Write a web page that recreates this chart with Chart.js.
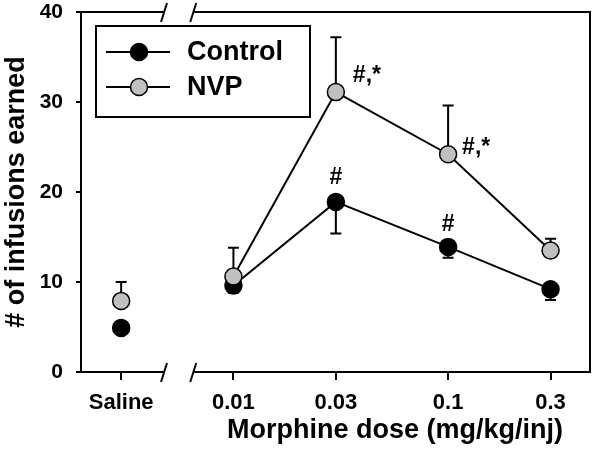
<!DOCTYPE html>
<html>
<head>
<meta charset="utf-8">
<script src="https://cdn.jsdelivr.net/npm/chart.js@4/dist/chart.umd.min.js"></script>
<style>
  html, body { margin: 0; padding: 0; background: #fff; }
  #wrap { width: 600px; height: 451px; }
</style>
</head>
<body>
<div id="wrap"><canvas id="chart"></canvas></div>
<script>
// Data (x on log dose axis, saline gets a nominal spot left of the break)
const doseLabels = ['Saline', '0.01', '0.03', '0.1', '0.3'];
const doseX = [0.003, 0.01, 0.03, 0.1, 0.3];
const controlMean = [4.9, 9.6, 18.9, 13.9, 9.2];
const controlErr = [0.4, 0.8, 3.5, 1.2, 1.2];
const nvpMean = [7.9, 10.6, 31.1, 24.2, 13.5];
const nvpErr = [2.1, 3.2, 6.1, 5.4, 1.3];
const yTicks = [0, 10, 20, 30, 40];
const nvpMarks = ['', '', '#,*', '#,*', ''];
const controlMarks = ['', '', '#', '#', ''];

const FONT = "'Liberation Sans', Arial, sans-serif";
const xMin = 0.00195, xMax = 0.458;
const breakFrom = 0.00475, breakTo = 0.0065;

const toPoints = (ys) => doseX.map((x, i) => ({ x: x, y: ys[i] }));

// ================= PLUGIN: frame, error bars, marks, legend =================
const figurePlugin = {
    id: 'figure',
    beforeDatasetsDraw(chart) {
        const ctx = chart.ctx;
        const xs = chart.scales.x, ys = chart.scales.y;
        ctx.save();
        ctx.strokeStyle = '#000';
        ctx.lineWidth = 2;
        const cap = 5.5;
        // NVP bars go up, control bars go down
        [[nvpMean, nvpErr, 1], [controlMean, controlErr, -1]].forEach(([m, e, dir]) => {
            m.forEach((v, i) => {
                const px = xs.getPixelForValue(doseX[i]);
                const y0 = ys.getPixelForValue(v);
                const y1 = ys.getPixelForValue(v + dir * e[i]);
                ctx.beginPath();
                ctx.moveTo(px, y0); ctx.lineTo(px, y1);
                ctx.moveTo(px - cap, y1); ctx.lineTo(px + cap, y1);
                ctx.stroke();
            });
        });
        ctx.restore();
    },
    afterDraw(chart) {
        const ctx = chart.ctx;
        const a = chart.chartArea;
        const xs = chart.scales.x, ys = chart.scales.y;
        ctx.save();
        ctx.strokeStyle = '#000';
        ctx.lineWidth = 2;

        // frame with axis break on top and bottom
        const b0 = xs.getPixelForValue(breakFrom);
        const b1 = xs.getPixelForValue(breakTo);
        ctx.beginPath();
        ctx.moveTo(a.left, a.top); ctx.lineTo(a.left, a.bottom);
        ctx.moveTo(a.right, a.top); ctx.lineTo(a.right, a.bottom);
        [a.top, a.bottom].forEach(y => {
            ctx.moveTo(a.left - 1, y); ctx.lineTo(b0, y);
            ctx.moveTo(b1, y); ctx.lineTo(a.right + 1, y);
            [b0, b1].forEach(bx => {
                ctx.moveTo(bx - 3, y + 10); ctx.lineTo(bx + 3, y - 9);
            });
        });
        ctx.stroke();

        // significance marks
        ctx.fillStyle = '#000';
        ctx.font = 'bold 23px ' + FONT;
        ctx.textBaseline = 'middle';
        nvpMarks.forEach((t, i) => {
            if (!t) return;
            const px = xs.getPixelForValue(doseX[i]);
            const py = ys.getPixelForValue(nvpMean[i]);
            ctx.textAlign = 'left';
            ctx.fillText(t, px + (i === 2 ? 17 : 14), py + (i === 2 ? -16 : -7));
        });
        controlMarks.forEach((t, i) => {
            if (!t) return;
            const px = xs.getPixelForValue(doseX[i]);
            const py = ys.getPixelForValue(controlMean[i]);
            ctx.textAlign = 'center';
            ctx.fillText(t, px, py + (i === 2 ? -24 : -22));
        });

        // x title (sits right of centre in the original)
        ctx.font = 'bold 27px ' + FONT;
        ctx.textAlign = 'center';
        ctx.fillText('Morphine dose (mg/kg/inj)', 395, 431);

        // legend
        ctx.strokeRect(96, 26, 214, 91);
        const rows = [['Control', '#000', 52], ['NVP', '#c0c0c0', 87]];
        rows.forEach(([name, fill, y]) => {
            ctx.beginPath();
            ctx.moveTo(106, y); ctx.lineTo(170, y);
            ctx.stroke();
            ctx.beginPath();
            ctx.arc(139, y, 8.5, 0, Math.PI * 2);
            ctx.fillStyle = fill;
            ctx.fill();
            ctx.lineWidth = 1.5;
            ctx.stroke();
            ctx.lineWidth = 2;
            ctx.fillStyle = '#000';
            ctx.font = 'bold 27px ' + FONT;
            ctx.textAlign = 'left';
            ctx.fillText(name, 187, y + 1);
        });
        ctx.restore();
    }
};

const noGapAfterSaline = (ctx) => ctx.p0DataIndex === 0 ? 'transparent' : '#000';

new Chart(document.getElementById('chart'), {
    type: 'line',
    data: {
        datasets: [
            {
                label: 'NVP',
                data: toPoints(nvpMean),
                borderColor: '#000',
                borderWidth: 2,
                pointRadius: 8.5,
                pointBackgroundColor: '#c0c0c0',
                pointBorderColor: '#000',
                pointBorderWidth: 1.5,
                segment: { borderColor: noGapAfterSaline },
                order: 0
            },
            {
                label: 'Control',
                data: toPoints(controlMean),
                borderColor: '#000',
                borderWidth: 2,
                pointRadius: 8.5,
                pointBackgroundColor: '#000',
                pointBorderColor: '#000',
                pointBorderWidth: 1.5,
                segment: { borderColor: noGapAfterSaline },
                order: 1
            }
        ]
    },
    options: {
        responsive: true,
        maintainAspectRatio: false,
        animation: false,
        clip: false,
        layout: { padding: { top: 12, right: 2, left: 0, bottom: 0 } },
        plugins: { legend: { display: false }, tooltip: { enabled: false } },
        scales: {
            x: {
                type: 'logarithmic',
                min: xMin,
                max: xMax,
                afterBuildTicks: (scale) => { scale.ticks = doseX.map(v => ({ value: v })); },
                afterFit: (scale) => {
                    scale.height = 79;
                    scale.paddingLeft = 0;
                    scale.paddingRight = 0;
                },
                ticks: {
                    autoSkip: false,
                    maxRotation: 0,
                    padding: 10,
                    color: '#000',
                    font: { family: FONT, size: 22, weight: 'bold' },
                    callback: (v, i) => doseLabels[i]
                },
                grid: { drawOnChartArea: false, drawTicks: true, tickLength: 8, color: '#000', lineWidth: 2 },
                border: { display: false }
            },
            y: {
                min: 0,
                max: 40,
                afterBuildTicks: (scale) => { scale.ticks = yTicks.map(v => ({ value: v })); },
                afterFit: (scale) => {
                    scale.width = 81;
                    scale.paddingTop = 0;
                    scale.paddingBottom = 0;
                },
                title: {
                    display: true,
                    text: '# of infusions earned',
                    color: '#000',
                    font: { family: FONT, size: 27, weight: 'bold' },
                    padding: { top: 0, bottom: 0 }
                },
                ticks: {
                    padding: 13,
                    color: '#000',
                    font: { family: FONT, size: 21, weight: 'bold' }
                },
                grid: { drawOnChartArea: false, drawTicks: true, tickLength: 5, color: '#000', lineWidth: 2 },
                border: { display: false }
            }
        }
    },
    plugins: [figurePlugin]
});
</script>
</body>
</html>
